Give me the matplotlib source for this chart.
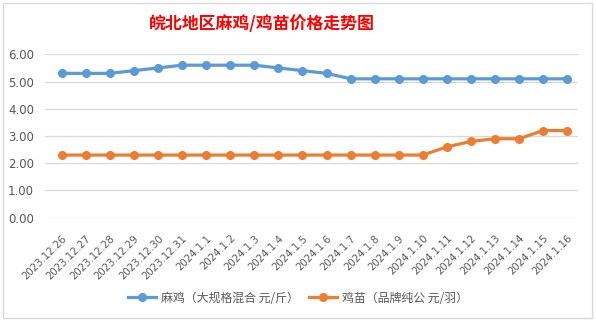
import numpy as np
import matplotlib
matplotlib.use("Agg")
import matplotlib.pyplot as plt
from matplotlib.patches import Rectangle

plt.rcParams['font.family'] = ['Noto Sans CJK SC', 'DejaVu Sans']

# 日期
dates = ['2023.12.26', '2023.12.27', '2023.12.28', '2023.12.29', '2023.12.30', '2023.12.31',
         '2024.1.1', '2024.1.2', '2024.1.3', '2024.1.4', '2024.1.5', '2024.1.6', '2024.1.7',
         '2024.1.8', '2024.1.9', '2024.1.10', '2024.1.11', '2024.1.12', '2024.1.13',
         '2024.1.14', '2024.1.15', '2024.1.16']
# 麻鸡 元/斤
maji = [5.3, 5.3, 5.3, 5.4, 5.5, 5.6, 5.6, 5.6, 5.6, 5.5, 5.4, 5.3, 5.1,
        5.1, 5.1, 5.1, 5.1, 5.1, 5.1, 5.1, 5.1, 5.1]
# 鸡苗 元/羽
jimiao = [2.3, 2.3, 2.3, 2.3, 2.3, 2.3, 2.3, 2.3, 2.3, 2.3, 2.3, 2.3, 2.3,
          2.3, 2.3, 2.3, 2.6, 2.8, 2.9, 2.9, 3.2, 3.2]
yticks = [0, 1, 2, 3, 4, 5, 6]
labels = ['麻鸡（大规格混合 元/斤）', '鸡苗（品牌纯公 元/羽）']
title = '皖北地区麻鸡/鸡苗价格走势图'

W, H = 596, 323
fig = plt.figure(figsize=(W/100, H/100), dpi=100)
fig.patches.append(Rectangle((3/W, 5/H), 589/W, 315/H, transform=fig.transFigure,
                             fill=False, edgecolor='#D9D9D9', linewidth=1))

ax = fig.add_axes([45/W, 1-217.7/H, (578-45)/W, (217.7-54.3)/H])
x = np.arange(len(dates))
ax.plot(x, maji, color='#5B9BD5', linewidth=2.3, marker='o', markersize=5.5, label=labels[0])
ax.plot(x, jimiao, color='#ED7D31', linewidth=2.3, marker='o', markersize=5.5, label=labels[1])

ax.set_ylim(0, 6)
ax.set_xlim(-0.7, len(dates) - 0.55)
ax.set_yticks(yticks)
ax.set_yticklabels(['%.2f' % v for v in yticks], color='#595959', fontsize=8.5, family='DejaVu Sans')
ax.set_xticks(x)
ax.set_xticklabels(dates, rotation=45, ha='right', rotation_mode='anchor',
                   color='#595959', fontsize=7.4, family='DejaVu Sans')
ax.tick_params(length=0, pad=8)
ax.tick_params(axis='x', pad=11)
ax.grid(axis='y', color='#D9D9D9', linewidth=0.9)
ax.set_axisbelow(True)
for s in ax.spines.values():
    s.set_visible(False)

fig.text(262/W, 1-24/H, title, ha='center', va='center', color='#FF0000',
         fontsize=12.2, fontweight='bold')

fig.legend(loc='center', bbox_to_anchor=(0.5, 1-298/H), ncol=2, frameon=False,
           fontsize=8.6, handlelength=2.3, handletextpad=0.4, columnspacing=0.9,
           labelcolor='#595959')

fig.savefig('out.png', dpi=100)
